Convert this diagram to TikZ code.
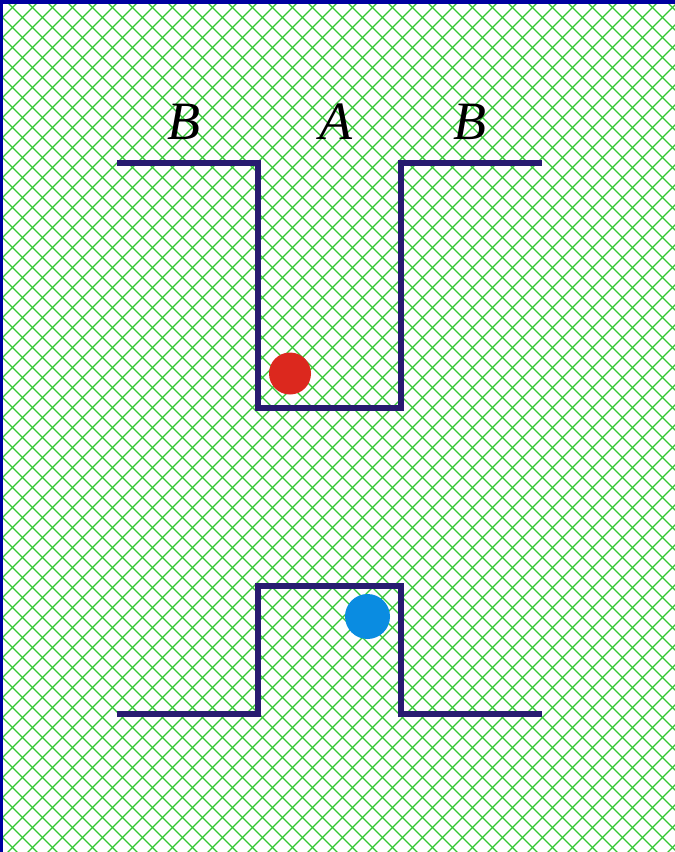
\documentclass[tikz,border=0pt]{standalone}
\usepackage{fontspec}
\setmainfont{Liberation Serif}
\definecolor{hatchgreen}{RGB}{50,200,50}
\definecolor{wallnavy}{RGB}{40,28,112}
\definecolor{framenavy}{RGB}{0,0,160}
\definecolor{ballred}{RGB}{220,40,30}
\definecolor{ballblue}{RGB}{10,140,225}
\tikzset{
  hatch/.style={draw=hatchgreen,line width=1.2pt},
  wall/.style={draw=wallnavy,line width=6.5pt,line join=miter},
  lab/.style={font=\fontsize{54}{54}\selectfont\itshape,text=black,inner sep=0pt},
}
\begin{document}
\begin{tikzpicture}[x=1pt,y=-1pt]
\useasboundingbox (0,0) rectangle (675,852);
\fill[white] (0,0) rectangle (675,852);
\begin{scope}
\clip (0,0) rectangle (675,852);
\foreach \c in {-875,-855,...,700} {
  \draw[hatch] (\c,0) -- (\c+900,900);
}
\foreach \c in {-20,0,...,1560} {
  \draw[hatch] (\c,0) -- (\c-900,900);
}
\end{scope}
\fill[framenavy] (0,0) rectangle (675,4);
\fill[framenavy] (0,0) rectangle (3,852);
% upper well
\draw[wall] (117,163) -- (258,163) -- (258,408) -- (401,408) -- (401,163) -- (542,163);
% lower barrier
\draw[wall] (117,714) -- (258,714) -- (258,586) -- (401,586) -- (401,714) -- (542,714);
\fill[ballred] (290,373.5) circle (21);
\fill[ballblue] (367.5,616.5) circle (22.5);
\node[lab] (b1) at (184,122) {B};
\node[lab] (a) at (336,122) {A};
\node[lab] (b2) at (470,122) {B};
\end{tikzpicture}
\end{document}
